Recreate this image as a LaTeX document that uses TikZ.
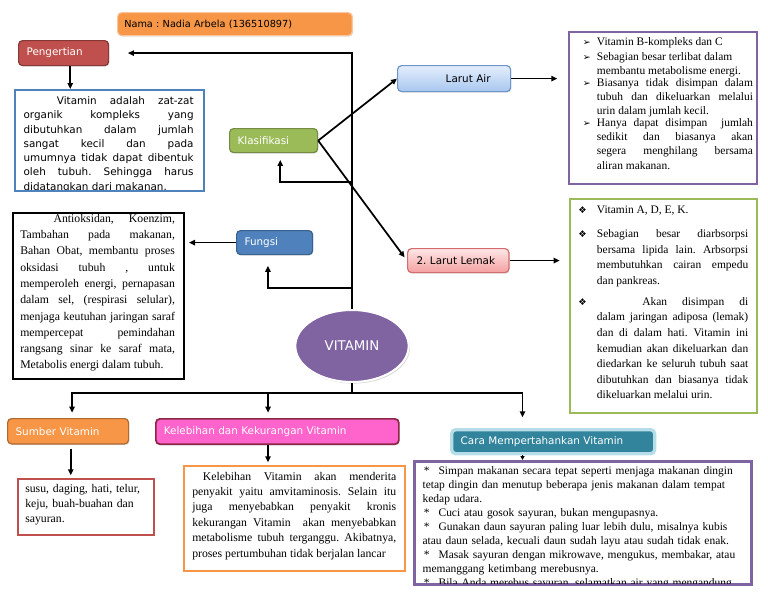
\documentclass[tikz,border=0pt]{standalone}
\usepackage{fontspec}
\setmainfont{Liberation Serif}
\newfontfamily\labelfont{DejaVu Sans}
\newfontfamily\symfont{DejaVu Sans}
\usepackage{tikz}
\usetikzlibrary{arrows.meta, positioning, shapes.geometric, shadows}
\definecolor{namaorange}{RGB}{247, 150, 70}
\definecolor{pengred}{RGB}{192, 80, 77}
\definecolor{klasgreen}{RGB}{155, 187, 89}
\definecolor{fungsiblue}{RGB}{79, 129, 189}
\definecolor{vitpurple}{RGB}{128, 100, 162}
\definecolor{kelpink}{RGB}{255, 100, 205}
\definecolor{kelborder}{RGB}{140, 40, 70}
\definecolor{carateal}{RGB}{49, 132, 155}
\definecolor{caraglow}{RGB}{183, 221, 232}
\definecolor{airtop}{RGB}{228, 238, 252}
\definecolor{airbottom}{RGB}{168, 199, 240}
\definecolor{airedge}{RGB}{110, 150, 200}
\definecolor{lemaktop}{RGB}{255, 230, 230}
\definecolor{lemakbottom}{RGB}{244, 160, 160}
\definecolor{lemakedge}{RGB}{210, 110, 112}
\setlength{\parindent}{0pt}
\frenchspacing
\tolerance=10000
\hyphenpenalty=10000
\exhyphenpenalty=10000

\begin{document}
\begin{tikzpicture}[
    x=0.75pt, y=-0.75pt,
    topic/.style={rectangle, rounded corners=3pt, anchor=north west, inner xsep=6pt, inner ysep=0pt, align=left, text=white, line width=0.9pt, font=\labelfont\fontsize{7.8}{9}\selectfont, drop shadow={opacity=0.25, shadow xshift=0.6pt, shadow yshift=-0.8pt}},
    infobox/.style={rectangle, draw, line width=1.5pt, anchor=north west, inner sep=0pt},
    infotext/.style={inner sep=0pt, align=justify, font=\fontsize{8.8}{11.6}\selectfont},
    arrow/.style={-{Triangle[length=4.5pt, width=4pt]}, line width=1.3pt},
    link/.style={line width=1.3pt}
]
\useasboundingbox (0,0) rectangle (768,594);

% Nama
\node[topic, fill=namaorange, draw=namaorange!55!white, text=black, text width=166pt, inner xsep=5pt, minimum height=17.25pt, font=\labelfont\fontsize{7.3}{9}\selectfont] (nama) at (117,12) {Nama : Nadia Arbela (136510897)};

% Pengertian
\node[topic, fill=pengred, draw=pengred!70!black, text width=55.5pt, minimum height=18.75pt] (pengertian) at (18,40) {Pengertian};
\node[infobox, draw=fungsiblue, minimum width=141.75pt, minimum height=75.75pt] (pengertianbox) at (14,89) {};
\begin{scope}
\clip ([yshift=1.6pt]pengertianbox.south west) rectangle (pengertianbox.north east);
\node[infotext, text width=127.5pt, font=\labelfont\fontsize{7.8}{10.7}\selectfont, below right=5.5pt and 7pt of pengertianbox.north west] (pengertianteks) {%
\hspace*{25pt}Vitamin adalah zat-zat\linebreak
organik kompleks yang\linebreak
dibutuhkan dalam jumlah\linebreak
sangat kecil dan pada\linebreak
umumnya tidak dapat dibentuk\linebreak
oleh tubuh. Sehingga harus\linebreak
didatangkan dari makanan.};
\end{scope}
\draw[arrow] ([xshift=5pt]pengertian.south) -- ([xshift=5pt]pengertian.south |- pengertianbox.north);

% Klasifikasi
\node[topic, fill=klasgreen, draw=klasgreen!75!black, text width=54pt, minimum height=18pt] (klasifikasi) at (229,128) {Klasifikasi};

% Larut Air
\node[topic, top color=airtop, bottom color=airbottom, draw=airedge, text=black, align=right, inner xsep=15pt, text width=54.75pt, minimum height=19.5pt] (larutair) at (397,65) {Larut Air};
\node[infobox, draw=vitpurple, minimum width=141pt, minimum height=114pt] (larutairbox) at (568,31) {};
\node[infotext, text width=127.5pt, font=\fontsize{8.6}{10.7}\selectfont, below right=5pt and 11pt of larutairbox.north west] (larutairteks) {%
\makebox[10.5pt][l]{\symfont\fontsize{7}{8}\selectfont ➢}\parbox[t]{117pt}{Vitamin B-kompleks dan C}\par
\makebox[10.5pt][l]{\symfont\fontsize{7}{8}\selectfont ➢}\parbox[t]{117pt}{Sebagian besar terlibat dalam\newline
membantu metabolisme energi.}\par
\makebox[10.5pt][l]{\symfont\fontsize{7}{8}\selectfont ➢}\parbox[t]{117pt}{Biasanya tidak disimpan dalam\linebreak
tubuh dan dikeluarkan melalui\linebreak
urin dalam jumlah kecil.}\par
\makebox[10.5pt][l]{\symfont\fontsize{7}{8}\selectfont ➢}\parbox[t]{117pt}{Hanya dapat disimpan \ jumlah\linebreak
sedikit dan biasanya akan\linebreak
segera menghilang bersama\linebreak
aliran makanan.}};
\draw[arrow, shorten >=8pt] (larutair.east) -- (larutair.east -| larutairbox.west);

% Larut Lemak
\node[topic, top color=lemaktop, bottom color=lemakbottom, draw=lemakedge, text=black, inner xsep=6.75pt, text width=62.5pt, minimum height=18pt] (larutlemak) at (407,248) {2. Larut Lemak};
\node[infobox, draw=klasgreen, minimum width=140.25pt, minimum height=160.5pt] (larutlemakbox) at (569,198) {};
\node[infotext, text width=127.5pt, font=\fontsize{8.6}{11.7}\selectfont, below right=6pt and 6.75pt of larutlemakbox.north west] (larutlemakteks) {%
\makebox[14pt][l]{\symfont\fontsize{7}{8}\selectfont ❖}\parbox[t]{113.5pt}{Vitamin A, D, E, K.}\par\vskip 6pt
\makebox[14pt][l]{\symfont\fontsize{7}{8}\selectfont ❖}\parbox[t]{113.5pt}{Sebagian besar diarbsorpsi\linebreak
bersama lipida lain. Arbsorpsi\linebreak
membutuhkan cairan empedu\linebreak
dan pankreas.}\par\vskip 7pt
\makebox[14pt][l]{\symfont\fontsize{7}{8}\selectfont ❖}\parbox[t]{113.5pt}{\hspace*{34pt}Akan disimpan di\linebreak
dalam jaringan adiposa (lemak)\linebreak
dan di dalam hati. Vitamin ini\linebreak
kemudian akan dikeluarkan dan\linebreak
diedarkan ke seluruh tubuh saat\linebreak
dibutuhkan dan biasanya tidak\linebreak
dikeluarkan melalui urin.}};
\draw[arrow, shorten >=7pt] (larutlemak.east) -- (larutlemak.east -| larutlemakbox.west);

% Klasifikasi to both kinds
\draw[arrow] (klasifikasi.east) -- (larutair.west);
\draw[arrow, shorten >=3pt] (klasifikasi.east) -- (larutlemak.west);

% Fungsi
\node[topic, fill=fungsiblue, draw=fungsiblue!75!black, text width=45pt, minimum height=18pt] (fungsi) at (236,230) {Fungsi};
\node[infobox, draw=black, minimum width=128.25pt, minimum height=124.5pt] (fungsibox) at (12,212) {};
\node[infotext, text width=116pt, font=\fontsize{8.8}{12.2}\selectfont, below right=1.5pt and 6pt of fungsibox.north west] (fungsiteks) {%
\hspace*{25pt}Antioksidan, Koenzim,\linebreak
Tambahan pada makanan,\linebreak
Bahan Obat, membantu proses\linebreak
oksidasi tubuh , untuk\linebreak
memperoleh energi, pernapasan\linebreak
dalam sel, (respirasi selular),\linebreak
menjaga keutuhan jaringan saraf\linebreak
mempercepat pemindahan\linebreak
rangsang sinar ke saraf mata,\linebreak
Metabolis energi dalam tubuh.};
\draw[arrow, shorten >=3pt] (fungsi.west) -- (fungsi.west -| fungsibox.east);

% VITAMIN
\node[ellipse, fill=vitpurple, draw=white, line width=1.5pt, minimum width=85pt, minimum height=54pt, inner sep=0pt, text=white, font=\labelfont\fontsize{10}{12}\selectfont, drop shadow={opacity=0.3, shadow xshift=1pt, shadow yshift=-1.2pt}] (vitamin) at (352,346) {VITAMIN};

% Spine upwards
\coordinate (kjunc) at (vitamin.north |- 0,182);
\coordinate (fjunc) at (vitamin.north |- 0,288);
\draw[arrow, shorten >=14pt] (vitamin.north) |- (pengertian.east);
\draw[arrow, shorten >=5pt] (kjunc) -| ([xshift=5pt]klasifikasi.south);
\draw[arrow, shorten >=8pt] (fjunc) -| ([xshift=-5pt]fungsi.south);

% Lower row
\node[topic, fill=namaorange, draw=namaorange!70!black, text width=78.75pt, minimum height=19pt] (sumber) at (7,418) {Sumber Vitamin};
\node[topic, fill=kelpink, draw=kelborder, line width=1.3pt, text width=170.25pt, minimum height=19pt] (kelebihan) at (155,418) {Kelebihan dan Kekurangan Vitamin};
\node[topic, fill=carateal, draw=caraglow, line width=2.5pt, inner xsep=6.75pt, text width=138.75pt, minimum height=18pt] (cara) at (450,428) {Cara Mempertahankan Vitamin};

\coordinate (bjunc) at (vitamin.south |- 0,393);
\draw[link] (vitamin.south) -- (bjunc);
\draw[arrow, shorten >=4pt] (bjunc) -| ([xshift=3pt]sumber.north);
\draw[arrow, shorten >=4pt] (bjunc) -| ([xshift=-7pt]kelebihan.north);
\draw[arrow, shorten >=8pt] (bjunc) -| ([xshift=-23pt]cara.north);

% Sumber
\node[infobox, draw=pengred, line width=1.3pt, minimum width=102pt, minimum height=42pt] (sumberbox) at (17,478) {};
\node[infotext, align=left, text width=90pt, font=\fontsize{8.8}{11.3}\selectfont, below right=4.5pt and 6pt of sumberbox.north west] (sumberteks) {%
susu, daging, hati, telur,\\
keju, buah-buahan dan\\
sayuran.};
\draw[arrow, shorten <=3pt, shorten >=2pt] ([xshift=2pt]sumber.south) -- ([xshift=2pt]sumber.south |- sumberbox.north);

% Kelebihan
\node[infobox, draw=namaorange, minimum width=165.75pt, minimum height=78.75pt] (kelebihanbox) at (183,465) {};
\node[infotext, text width=153pt, font=\fontsize{8.8}{11.55}\selectfont, below right=5pt and 6.75pt of kelebihanbox.north west] (kelebihanteks) {%
\hspace*{8pt}Kelebihan Vitamin akan menderita\linebreak
penyakit yaitu amvitaminosis. Selain itu\linebreak
juga menyebabkan penyakit kronis\linebreak
kekurangan Vitamin \ akan menyebabkan\linebreak
metabolisme tubuh terganggu. Akibatnya,\linebreak
proses pertumbuhan tidak berjalan lancar};
\draw[arrow, shorten >=2pt] ([xshift=-7pt]kelebihan.south) -- ([xshift=-7pt]kelebihan.south |- kelebihanbox.north);

% Cara
\node[infobox, draw=vitpurple, line width=2pt, minimum width=252.75pt, minimum height=92.25pt] (carabox) at (413,460) {};
\begin{scope}
\clip ([yshift=1.8pt]carabox.south west) rectangle (carabox.north east);
\node[infotext, align=left, text width=241pt, font=\fontsize{8.6}{10.45}\selectfont, below right=5pt and 7pt of carabox.north west] (carateks) {%
\makebox[12pt][l]{\hspace{1pt}*}Simpan makanan secara tepat seperti menjaga makanan dingin\\
tetap dingin dan menutup beberapa jenis makanan dalam tempat\\
kedap udara.\\
\makebox[12pt][l]{\hspace{1pt}*}Cuci atau gosok sayuran, bukan mengupasnya.\\
\makebox[12pt][l]{\hspace{1pt}*}Gunakan daun sayuran paling luar lebih dulu, misalnya kubis\\
atau daun selada, kecuali daun sudah layu atau sudah tidak enak.\\
\makebox[12pt][l]{\hspace{1pt}*}Masak sayuran dengan mikrowave, mengukus, membakar, atau\\
memanggang ketimbang merebusnya.\\
\makebox[12pt][l]{\hspace{1pt}*}Bila Anda merebus sayuran, selamatkan air yang mengandung};
\end{scope}
\draw[-{Triangle[length=3pt, width=3pt]}, line width=0.8pt] ([xshift=-23pt]cara.south) -- ([xshift=-23pt]cara.south |- carabox.north);

\end{tikzpicture}
\end{document}
